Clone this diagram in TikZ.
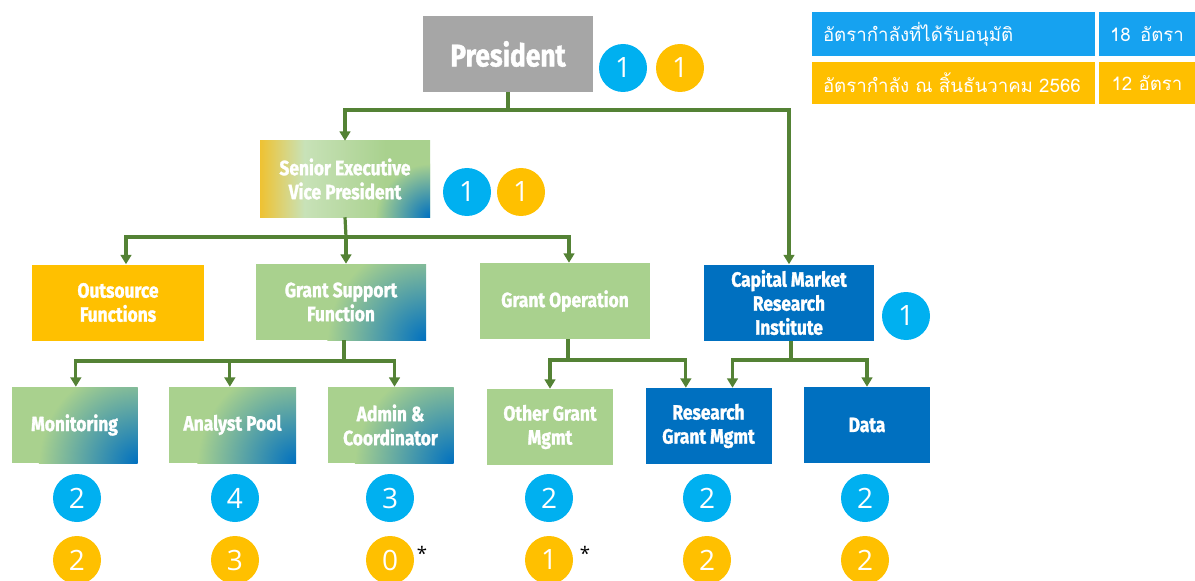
\documentclass[tikz,border=0pt]{standalone}
\usepackage{fontspec}
\setmainfont{Fira Sans}[FakeStretch=0.84, BoldFeatures={FakeBold=1.4}]
\newfontfamily\numfont{Open Sans}
\newfontfamily\thaifont[Script=Thai]{Loma}
\usetikzlibrary{arrows.meta}
\definecolor{gbox}{HTML}{A9D18E}
\definecolor{bbox}{HTML}{0070C0}
\definecolor{obox}{HTML}{FFC000}
\definecolor{presgray}{HTML}{A6A6A6}
\definecolor{lineg}{HTML}{548235}
\definecolor{cblue}{HTML}{00B0F0}
\definecolor{corange}{HTML}{FFC000}
\definecolor{tblue}{HTML}{16A2F0}
\definecolor{torange}{HTML}{FFBF00}
\definecolor{sy}{HTML}{EFC232}
\definecolor{slg}{HTML}{C8E2B8}
\pgfdeclarehorizontalshading{sevpsh}{100bp}{color(0bp)=(sy); color(25bp)=(sy); color(38bp)=(slg); color(62bp)=(gbox); color(100bp)=(gbox)}
\tikzset{
  box/.style={minimum width=127.5pt, minimum height=57pt, text=white, align=center, inner sep=0pt,
    font=\bfseries\fontsize{15.5}{18}\selectfont},
  small/.style={minimum width=94.5pt},
  plaingreen/.style={fill=gbox},
  bluebox/.style={fill=bbox},
  orangebox/.style={fill=obox},
  gradgreen/.style={path picture={
    \fill[gbox] (path picture bounding box.south west) rectangle (path picture bounding box.north east);
    \shade[inner color=bbox, outer color=gbox] (path picture bounding box.south east) circle (74pt);}},
  gradsevp/.style={path picture={
    \shade[shading=sevpsh] (path picture bounding box.south west) rectangle (path picture bounding box.north east);
    \shade[inner color=bbox, outer color=gbox] (path picture bounding box.south east) circle (40pt);}},
  badge/.style={circle, minimum size=36pt, inner sep=0pt, text=white, font=\numfont\fontsize{21}{23}\selectfont},
  bb/.style={badge, fill=cblue},
  ob/.style={badge, fill=corange},
  conn/.style={draw=lineg, line width=2.4pt},
  arr/.style={conn, -{Triangle[width=8pt,length=7pt]}},
  cell/.style={minimum height=33pt, inner sep=0pt, text=white, font=\thaifont\fontsize{14}{16}\selectfont},
}
\begin{document}
\begin{tikzpicture}[x=0.75pt, y=-0.75pt]
\useasboundingbox (0,0) rectangle (1195,581);
% table
\node[cell, fill=tblue, minimum width=212.25pt, text width=195.75pt, align=left] (t1) at (953.5,34) {อัตรากำลังที่ได้รับอนุมัติ};
\node[cell, fill=tblue, minimum width=72pt] (t1v) at (1147,34) {18\enspace อัตรา};
\node[cell, fill=torange, minimum width=212.25pt, text width=195.75pt, align=left, minimum height=31.5pt] (t2) at (953.5,83) {อัตรากำลัง ณ สิ้นธันวาคม 2566};
\node[cell, fill=torange, minimum width=72pt, minimum height=31.5pt] (t2v) at (1147,83) {12 อัตรา};
% boxes
\node[box, fill=presgray, font=\bfseries\fontsize{23.5}{26}\selectfont] (pres) at (508,54) {President};
\node[box, gradsevp] (sevp) at (345,179) {Senior Executive\\Vice President};
\node[box, orangebox, minimum width=129pt] (outs) at (118,302.5) {Outsource\\Functions};
\node[box, gradgreen] (gsf) at (341,302) {Grant Support\\Function};
\node[box, plaingreen] (gop) at (565,301) {Grant Operation};
\node[box, bluebox] (cmri) at (789,302.5) {Capital Market\\Research\\Institute};
\node[box, small, gradgreen] (mon) at (74.5,425) {Monitoring};
\node[box, small, gradgreen, minimum width=95.25pt] (ana) at (232.5,425) {Analyst Pool};
\node[box, small, gradgreen] (adm) at (390.5,425) {Admin \&\\Coordinator};
\node[box, small, plaingreen] (ogm) at (550,427) {Other Grant\\Mgmt};
\node[box, small, bluebox] (rgm) at (708.5,426) {Research\\Grant Mgmt};
\node[box, small, bluebox] (data) at (867,425) {Data};
% connectors
\coordinate (j0) at (508,110);
\draw[conn] (pres.south) -- (j0);
\draw[arr] (j0) -| (sevp.north);
\draw[arr] (j0) -| (cmri.north);
\coordinate (j1) at (346,237);
\draw[conn] (sevp.south) -- (j1);
\draw[arr] (j1) -| ([xshift=6pt]outs.north);
\draw[arr] (j1) -- (j1 |- gsf.north);
\draw[arr] (j1) -| ([xshift=3pt]gop.north);
\coordinate (j2) at (344,361);
\draw[conn] (gsf.south -| j2) -- (j2);
\draw[arr] (j2) -| ([xshift=1pt]mon.north);
\draw[arr] (j2) -| ([xshift=-2pt]ana.north);
\draw[arr] (j2) -| ([xshift=3pt]adm.north);
\coordinate (j3) at (568,360);
\draw[conn] (gop.south -| j3) -- (j3);
\draw[arr] (j3) -| (ogm.north);
\draw[arr] (j3) -| ([xshift=-17pt]rgm.north);
\coordinate (j4) at (791,360);
\draw[conn] (cmri.south -| j4) -- (j4);
\draw[arr] (j4) -| ([xshift=18pt]rgm.north);
\draw[arr] (j4) -| (data.north);
% badges
\node[bb] (pb1) at (623,68) {1};
\node[ob] (pb2) at (680,68) {1};
\node[bb] (sb1) at (467,192) {1};
\node[ob] (sb2) at (521,192) {1};
\node[bb] (cb1) at (906,316) {1};
\node[bb] (mb1) at (77,498) {2};
\node[bb] (ab1) at (235,498) {4};
\node[bb] (db1) at (390,498) {3};
\node[bb] (ob1) at (549,498) {2};
\node[bb] (rb1) at (707,498) {2};
\node[bb] (tb1) at (865,498) {2};
\node[ob] (mb2) at (77,560) {2};
\node[ob] (ab2) at (235,560) {3};
\node[ob] (db2) at (390,560) {0};
\node[ob] (ob2) at (549,560) {1};
\node[ob] (rb2) at (707,560) {2};
\node[ob] (tb2) at (865,560) {2};
\node[font=\numfont\fontsize{14}{14}\selectfont, inner sep=0pt] (st1) at (422,553) {*};
\node[font=\numfont\fontsize{14}{14}\selectfont, inner sep=0pt] (st2) at (585,553) {*};
\end{tikzpicture}
\end{document}
